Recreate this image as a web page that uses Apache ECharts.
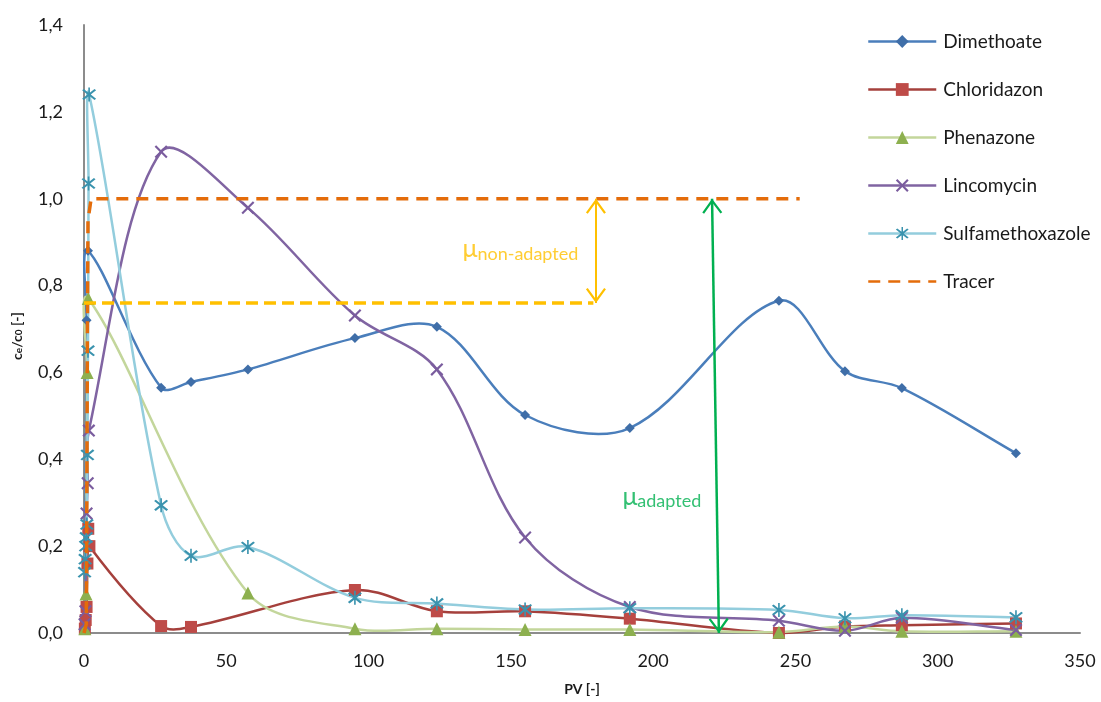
<!DOCTYPE html>
<html>
<head>
<meta charset="utf-8">
<script src="https://cdn.jsdelivr.net/npm/echarts@6/dist/echarts.min.js"></script>
<style>
  html, body { margin: 0; padding: 0; background: #fff; }
  #chart { width: 1101px; height: 702px; }
</style>
</head>
<body>
<div id="chart"></div>
<script>
// Breakthrough curves: relative concentration ce/c0 against pore volumes (PV)
const seriesNames = ['Dimethoate', 'Chloridazon', 'Phenazone', 'Lincomycin', 'Sulfamethoxazole', 'Tracer'];

const dimethoatePV = [0.4, 0.9, 1.4, 27.1, 37.6, 57.6, 95.2, 124.0, 155.0, 191.8, 244.2, 267.4, 287.4, 327.5];
const dimethoateC  = [0.02, 0.72, 0.88, 0.565, 0.578, 0.607, 0.679, 0.705, 0.502, 0.472, 0.765, 0.603, 0.564, 0.414];

const chloridazonPV = [0.3, 0.6, 0.9, 1.2, 1.5, 1.9, 27.1, 37.6, 95.2, 124.0, 155.0, 191.8, 244.2, 267.4, 287.4, 327.5];
const chloridazonC  = [0.01, 0.03, 0.06, 0.16, 0.24, 0.20, 0.016, 0.014, 0.099, 0.05, 0.05, 0.033, 0.0, 0.015, 0.018, 0.022];

const phenazonePV = [0.3, 0.7, 1.1, 1.5, 57.6, 95.2, 124.0, 155.0, 191.8, 244.2, 267.4, 287.4, 327.5];
const phenazoneC  = [0.01, 0.09, 0.60, 0.77, 0.092, 0.01, 0.01, 0.008, 0.008, 0.002, 0.015, 0.004, 0.004];

const lincomycinPV = [0.2, 0.5, 0.9, 1.3, 1.7, 27.1, 57.6, 95.2, 124.0, 155.0, 191.8, 244.2, 267.4, 287.4, 327.5];
const lincomycinC  = [0.02, 0.05, 0.275, 0.345, 0.466, 1.108, 0.979, 0.731, 0.607, 0.22, 0.06, 0.028, 0.005, 0.035, 0.007];

const sulfaPV = [0.2, 0.4, 0.6, 0.8, 1.0, 1.2, 1.4, 1.6, 1.8, 27.1, 37.6, 57.6, 95.2, 124.0, 155.0, 191.8, 244.2, 267.4, 287.4, 327.5];
const sulfaC  = [0.14, 0.17, 0.2, 0.22, 0.25, 0.41, 0.65, 1.035, 1.24, 0.294, 0.178, 0.198, 0.081, 0.068, 0.054, 0.057, 0.053, 0.034, 0.041, 0.036];

const tracerPV = [0, 0.8, 1.0, 1.2, 1.4, 2.5, 251.5];
const tracerC  = [0, 0.02, 0.3, 0.7, 0.95, 1.0, 1.0];

// Retardation markers: plateau of the non-adapted column and the two distances
const nonAdaptedLevel = 0.76;
const nonAdaptedEndPV = 179;
const nonAdaptedArrow = [[179.9, 1.0], [179.9, 0.76]];
const adaptedArrow    = [[220.7, 1.0], [223.1, 0.0]];
const nonAdaptedLabelAt = [133.0, 0.884];
const adaptedLabelAt    = [189.2, 0.314];

const xTicks = { min: 0, max: 350, step: 50 };
const yTicks = { min: 0, max: 1.4, step: 0.2 };

const zip = (xs, ys) => xs.map((x, i) => [x, ys[i]]);

const FONT = 'Lato, "Open Sans", sans-serif';
const TEXT = '#1a1a1a';

// filled outlines for the cross-type markers
const crossPath = 'path://M0,1.4 L1.4,0 L6,4.6 L10.6,0 L12,1.4 L7.4,6 L12,10.6 L10.6,12 L6,7.4 L1.4,12 L0,10.6 L4.6,6 Z';
const starPath  = 'path://M0,1.4 L1.4,0 L6,4.6 L10.6,0 L12,1.4 L7.4,6 L12,10.6 L10.6,12 L6,7.4 L1.4,12 L0,10.6 L4.6,6 Z M5.3,-1.5 L6.7,-1.5 L6.7,13.5 L5.3,13.5 Z';
// open arrow head, tip placed at the symbol centre
const headPath  = 'path://M10,-15 L10.02,-15 L10,-15 Z M10,0 L20,13.6 L18.2,14.9 L10,3.7 L1.8,14.9 L0,13.6 Z';

// Markers only; the connecting curve is drawn by the matching custom series.
function markers(name, xs, ys, lineColor, markColor, symbol, size) {
  return {
    name, type: 'line',
    data: zip(xs, ys),
    symbol, symbolSize: size,
    showAllSymbol: true,
    lineStyle: { color: lineColor, width: 2.5, opacity: 0 },
    itemStyle: { color: markColor, borderWidth: 0 },
    emphasis: { disabled: true },
    z: 3
  };
}

// Cubic Bezier spline through the points, tangents from neighbouring points
// (length weighted), computed in pixel space and allowed to overshoot.
function curve(name, xs, ys, color) {
  const n = xs.length;
  return {
    name: name + ' curve', type: 'custom',
    data: zip(xs, ys),
    silent: true, z: 2,
    renderItem(params, api) {
      const i = params.dataIndex;
      if (i >= n - 1) return null;
      const P = k => api.coord([xs[Math.max(0, Math.min(n - 1, k))], ys[Math.max(0, Math.min(n - 1, k))]]);
      const p0 = P(i - 1), p1 = P(i), p2 = P(i + 1), p3 = P(i + 2);
      const d = (a, b) => Math.hypot(b[0] - a[0], b[1] - a[1]);
      const d01 = d(p0, p1), d12 = d(p1, p2), d23 = d(p2, p3);
      const k1 = (d01 + d12) > 0 ? (2 / 6) * d12 / (d01 + d12) : 0;
      const k2 = (d12 + d23) > 0 ? (2 / 6) * d12 / (d12 + d23) : 0;
      return {
        type: 'bezierCurve',
        shape: {
          x1: p1[0], y1: p1[1], x2: p2[0], y2: p2[1],
          cpx1: p1[0] + (p2[0] - p0[0]) * k1, cpy1: p1[1] + (p2[1] - p0[1]) * k1,
          cpx2: p2[0] - (p3[0] - p1[0]) * k2, cpy2: p2[1] - (p3[1] - p1[1]) * k2
        },
        style: { stroke: color, lineWidth: 2.5, fill: null, lineCap: 'round' }
      };
    }
  };
}

const chart = echarts.init(document.getElementById('chart'), null, { renderer: 'canvas' });

chart.setOption({
  animation: false,
  backgroundColor: '#ffffff',
  textStyle: { fontFamily: FONT },
  grid: { left: 84, right: 21, top: 25, bottom: 69, containLabel: false },
  legend: {
    data: seriesNames.map(n => n === 'Tracer' ? { name: n, itemStyle: { opacity: 0 } } : n),
    orient: 'vertical',
    left: 862, top: 27,
    itemWidth: 68, itemHeight: 16, itemGap: 29,
    lineStyle: { opacity: 1, width: 2.5 },
    textStyle: { fontFamily: FONT, fontSize: 19, color: TEXT, padding: [0, 0, 0, 2] }
  },
  xAxis: {
    type: 'value', min: xTicks.min, max: xTicks.max, interval: xTicks.step,
    name: 'PV [-]', nameLocation: 'middle', nameGap: 49,
    nameTextStyle: { fontFamily: FONT, fontSize: 14, fontWeight: 'bold', color: TEXT },
    axisLine: { show: true, lineStyle: { color: '#8c8c8c', width: 2 } },
    axisTick: { show: false },
    splitLine: { show: false },
    axisLabel: { fontFamily: FONT, fontSize: 18, color: TEXT, margin: 19 }
  },
  yAxis: {
    type: 'value', min: yTicks.min, max: yTicks.max, interval: yTicks.step,
    name: '{b|c}{s|e}{b|/c}{s|0}{b| [-]}', nameLocation: 'middle', nameGap: 60, nameRotate: 90,
    nameTextStyle: {
      fontFamily: FONT, fontSize: 14, fontWeight: 'bold', color: TEXT,
      padding: [0, 14, 0, 0],
      rich: {
        b: { fontFamily: FONT, fontSize: 14, fontWeight: 'bold', color: TEXT, verticalAlign: 'bottom', lineHeight: 18 },
        s: { fontFamily: FONT, fontSize: 10, fontWeight: 'bold', color: TEXT, verticalAlign: 'bottom', lineHeight: 13 }
      }
    },
    axisLine: { show: true, lineStyle: { color: '#8c8c8c', width: 2 } },
    axisTick: { show: false },
    splitLine: { show: false },
    axisLabel: {
      fontFamily: FONT, fontSize: 18, color: TEXT, margin: 21,
      formatter: v => v.toFixed(1).replace('.', ',')
    }
  },
  series: [
    curve('Dimethoate', dimethoatePV, dimethoateC, '#4A7EBB'),
    markers('Dimethoate', dimethoatePV, dimethoateC, '#4A7EBB', '#3F6EA8', 'diamond', 10),
    curve('Chloridazon', chloridazonPV, chloridazonC, '#A5403C'),
    markers('Chloridazon', chloridazonPV, chloridazonC, '#A5403C', '#BE4B48', 'rect', 12),
    curve('Phenazone', phenazonePV, phenazoneC, '#C3D69B'),
    markers('Phenazone', phenazonePV, phenazoneC, '#C3D69B', '#8DB04F', 'triangle', 13),
    curve('Lincomycin', lincomycinPV, lincomycinC, '#8064A2'),
    markers('Lincomycin', lincomycinPV, lincomycinC, '#8064A2', '#7A5C9E', crossPath, 13),
    curve('Sulfamethoxazole', sulfaPV, sulfaC, '#93CDDD'),
    markers('Sulfamethoxazole', sulfaPV, sulfaC, '#93CDDD', '#3A93AE', starPath, 14),
    {
      name: 'Tracer', type: 'line', smooth: false,
      data: zip(tracerPV, tracerC),
      symbol: 'none',
      lineStyle: { color: '#E46C0A', width: 3.5, type: [12, 8] },
      itemStyle: { color: '#E46C0A' },
      emphasis: { disabled: true },
      z: 4
    },
    {
      name: 'plateau', type: 'line',
      data: [[0, nonAdaptedLevel], [nonAdaptedEndPV, nonAdaptedLevel]],
      symbol: 'none',
      lineStyle: { color: '#FFC000', width: 3.5, type: [12, 6] },
      emphasis: { disabled: true },
      z: 4,
      markLine: {
        silent: true,
        symbol: [headPath, headPath],
        symbolSize: [20, 30],
        label: { show: false },
        data: [
          [
            { coord: nonAdaptedArrow[0], lineStyle: { color: '#FFC000', width: 2, type: 'solid' }, itemStyle: { color: '#FFC000' } },
            { coord: nonAdaptedArrow[1] }
          ],
          [
            { coord: adaptedArrow[0], lineStyle: { color: '#00B050', width: 2.5, type: 'solid' }, itemStyle: { color: '#00B050' } },
            { coord: adaptedArrow[1] }
          ]
        ]
      }
    },
    {
      name: 'labels', type: 'scatter',
      symbolSize: 0, silent: true, z: 5,
      data: [
        { value: nonAdaptedLabelAt, label: { formatter: '{m|μ}{s|non-adapted}', rich: {
          m: { fontFamily: FONT, fontSize: 25, color: '#FFC000' },
          s: { fontFamily: FONT, fontSize: 18, color: '#FFC000', padding: [10, 0, 0, 0] } } } },
        { value: adaptedLabelAt, label: { formatter: '{m|μ}{s|adapted}', rich: {
          m: { fontFamily: FONT, fontSize: 25, color: '#00B050' },
          s: { fontFamily: FONT, fontSize: 18, color: '#00B050', padding: [10, 0, 0, 0] } } } }
      ],
      label: { show: true, position: 'right', distance: 0 }
    }
  ]
});
</script>
</body>
</html>
